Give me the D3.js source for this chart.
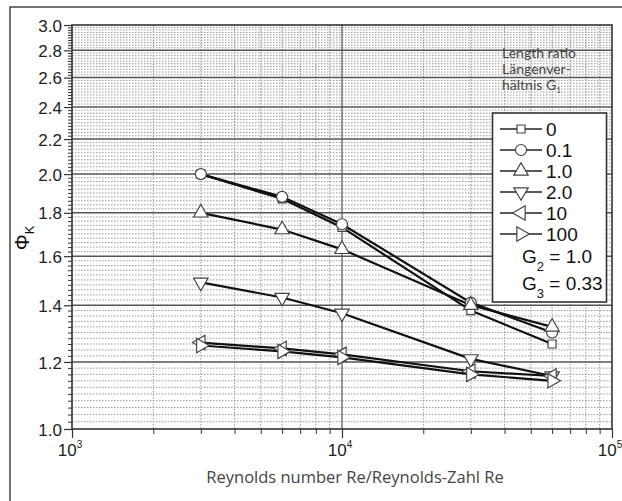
<!DOCTYPE html>
<html><head><meta charset="utf-8">
<script src="https://cdn.jsdelivr.net/npm/d3@7"></script>
<style>body{margin:0;background:#fff}svg{display:block}</style>
</head><body>
<svg id="c" width="622" height="501"></svg>
<script>
const reynolds = [3000, 6000, 10000, 30000, 60000];
const seriesNames = ["0", "0.1", "1.0", "2.0", "10", "100"];
const phi_G0   = [2.00, 1.87, 1.73, 1.38, 1.26];
const phi_G01  = [2.00, 1.88, 1.745, 1.41, 1.30];
const phi_G1   = [1.80, 1.72, 1.63, 1.40, 1.32];
const phi_G2   = [1.49, 1.43, 1.37, 1.21, 1.155];
const phi_G10  = [1.265, 1.245, 1.225, 1.17, 1.155];
const phi_G100 = [1.255, 1.235, 1.215, 1.16, 1.14];
const yTickLabels = ["1.0","1.2","1.4","1.6","1.8","2.0","2.2","2.4","2.6","2.8","3.0"];
const xTickExps = [3, 4, 5];
const annotationLines = ["Length ratio", "Längenver-", "hältnis G"];

const allSeries = [phi_G0, phi_G01, phi_G1, phi_G2, phi_G10, phi_G100];
const markerTypes = [
  {sym: d3.symbolSquare, size: 64, rot: 0},
  {sym: d3.symbolCircle, size: 95, rot: 0},
  {sym: d3.symbolTriangle, size: 90, rot: 0},
  {sym: d3.symbolTriangle, size: 90, rot: 180},
  {sym: d3.symbolTriangle, size: 90, rot: -90},
  {sym: d3.symbolTriangle, size: 90, rot: 90}
];

const svg = d3.select("#c");
const L = 72, R = 612, T = 25, B = 429;
const x = d3.scaleLog().domain([1000, 100000]).range([L, R]);
const y = d3.scaleLog().domain([1, 3]).range([B, T]);

// outer frame (top & left visible)
svg.append("path").attr("d", "M10,501 V7 H622").attr("fill","none").attr("stroke","#444").attr("stroke-width",1.5);

const grid = svg.append("g");
const yMinor = d3.range(1, 150).map(i => 1 + i*0.02).filter(v => v < 3.0001 && Math.abs(v*5 - Math.round(v*5)) > 1e-6);
grid.selectAll(".hm").data(yMinor).join("line")
  .attr("x1", L).attr("x2", R).attr("y1", d => y(d)).attr("y2", d => y(d))
  .attr("stroke", "#999").attr("stroke-width", 1).attr("stroke-dasharray", "1.5,1.5");
const xMinor = [];
[1000, 10000].forEach(dec => { for (let k = 2; k <= 9; k++) xMinor.push(dec*k); });
grid.selectAll(".vm").data(xMinor).join("line")
  .attr("y1", T).attr("y2", B).attr("x1", d => x(d)).attr("x2", d => x(d))
  .attr("stroke", "#999").attr("stroke-width", 1).attr("stroke-dasharray", "1.5,1.5");
const yMajor = yTickLabels.map(Number);
grid.selectAll(".hM").data(yMajor.slice(1, -1)).join("line")
  .attr("x1", L).attr("x2", R).attr("y1", d => y(d)).attr("y2", d => y(d))
  .attr("stroke", "#555").attr("stroke-width", 1.5);
grid.append("line").attr("x1", x(10000)).attr("x2", x(10000)).attr("y1", T).attr("y2", B)
  .attr("stroke", "#555").attr("stroke-width", 1.2);

// axes
const yAxisMinor = d3.axisLeft(y).tickValues(yMinor).tickSize(4).tickFormat("");
svg.append("g").attr("transform", `translate(${L},0)`).call(yAxisMinor)
  .call(g => g.select(".domain").remove())
  .call(g => g.selectAll("line").attr("stroke", "#333"));
const yAxis = d3.axisLeft(y).tickValues(yMajor).tickSize(8).tickPadding(2)
  .tickFormat((d, i) => yTickLabels[i]);
svg.append("g").attr("transform", `translate(${L},0)`).call(yAxis)
  .call(g => g.select(".domain").remove())
  .call(g => g.selectAll("line").attr("stroke", "#333").attr("stroke-width", 1.2))
  .call(g => g.selectAll("text").attr("font-family", "Liberation Sans, Arial, sans-serif")
    .attr("font-size", 17).attr("fill", "#222").attr("dy", "0.36em"));

const xAxisMinor = d3.axisBottom(x).tickValues(xMinor).tickSize(5).tickFormat("");
svg.append("g").attr("transform", `translate(0,${B})`).call(xAxisMinor)
  .call(g => g.select(".domain").remove())
  .call(g => g.selectAll("line").attr("stroke", "#333"));
const xMajorVals = xTickExps.map(e => Math.pow(10, e));
const xAxis = d3.axisBottom(x).tickValues(xMajorVals).tickSize(9).tickFormat("");
svg.append("g").attr("transform", `translate(0,${B})`).call(xAxis)
  .call(g => g.select(".domain").remove())
  .call(g => g.selectAll("line").attr("stroke", "#333").attr("stroke-width", 1.2));
const xl = svg.append("g").selectAll("text").data(xTickExps).join("text")
  .attr("x", d => x(Math.pow(10, d)) - 2).attr("y", 456)
  .attr("text-anchor", "middle").attr("font-family", "Liberation Sans, Arial, sans-serif")
  .attr("font-size", 17).attr("fill", "#222");
xl.append("tspan").text("10");
xl.append("tspan").text(d => d).attr("font-size", 10).attr("dy", -8);

// plot frame
svg.append("rect").attr("x", L).attr("y", T).attr("width", R - L).attr("height", B - T)
  .attr("fill", "none").attr("stroke", "#333").attr("stroke-width", 1.6);

// annotation
annotationLines.forEach((txt, i) => {
  const t = svg.append("text").attr("x", 502).attr("y", 58 + i * 16)
    .attr("font-family", "Lato, sans-serif").attr("font-size", 14).attr("fill", "#444").text(txt);
  if (i === 2) t.append("tspan").attr("font-size", 8).attr("dy", 3).text("1");
});

// lines
const line = d3.line().x((d, i) => x(reynolds[i])).y(d => y(d));
const lg = svg.append("g");
allSeries.forEach(s => {
  lg.append("path").datum(s).attr("d", line).attr("fill", "none")
    .attr("stroke", "#111").attr("stroke-width", 2.2);
});
allSeries.forEach((s, si) => {
  const m = markerTypes[si];
  lg.selectAll(null).data(s).join("path")
    .attr("d", d3.symbol().type(m.sym).size(m.size))
    .attr("transform", (d, i) => `translate(${x(reynolds[i])},${y(d)}) rotate(${m.rot})`)
    .attr("fill", "#fff").attr("stroke", "#444").attr("stroke-width", 1.2);
});

// legend
const lgd = svg.append("g");
lgd.append("rect").attr("x", 492.5).attr("y", 113).attr("width", 114).attr("height", 189)
  .attr("fill", "#fff").attr("stroke", "#333").attr("stroke-width", 1.6);
seriesNames.forEach((name, i) => {
  const cy = 129 + i * 21;
  const m = markerTypes[i];
  lgd.append("line").attr("x1", 500).attr("x2", 542).attr("y1", cy).attr("y2", cy)
    .attr("stroke", "#222").attr("stroke-width", 1.5);
  lgd.append("path").attr("d", d3.symbol().type(m.sym).size(m.size))
    .attr("transform", `translate(521,${cy}) rotate(${m.rot})`)
    .attr("fill", "#fff").attr("stroke", "#444").attr("stroke-width", 1.2);
  lgd.append("text").attr("x", 546).attr("y", cy + 7).text(name)
    .attr("font-family", "Liberation Sans, Arial, sans-serif").attr("font-size", 19).attr("fill", "#111");
});
[["2", "= 1.0", 263], ["3", "= 0.33", 290]].forEach(([sub, val, by]) => {
  const t = lgd.append("text").attr("x", 522).attr("y", by)
    .attr("font-family", "Liberation Sans, Arial, sans-serif").attr("font-size", 19).attr("fill", "#111");
  t.append("tspan").text("G");
  t.append("tspan").text(sub).attr("font-size", 13).attr("dy", 8);
  t.append("tspan").text(" " + val).attr("dy", -8);
});

// axis titles
svg.append("text").attr("x", 355).attr("y", 483).attr("text-anchor", "middle")
  .attr("font-family", "Open Sans, sans-serif").attr("font-size", 16.5).attr("fill", "#444")
  .text("Reynolds number Re/Reynolds-Zahl Re");
const yt = svg.append("text").attr("transform", "translate(29,238) rotate(-90)")
  .attr("text-anchor", "middle").attr("font-family", "Liberation Sans, Arial, sans-serif")
  .attr("font-size", 20).attr("fill", "#111");
yt.append("tspan").text("Φ");
yt.append("tspan").text("K").attr("font-size", 13).attr("dy", 5);
</script>
</body></html>
